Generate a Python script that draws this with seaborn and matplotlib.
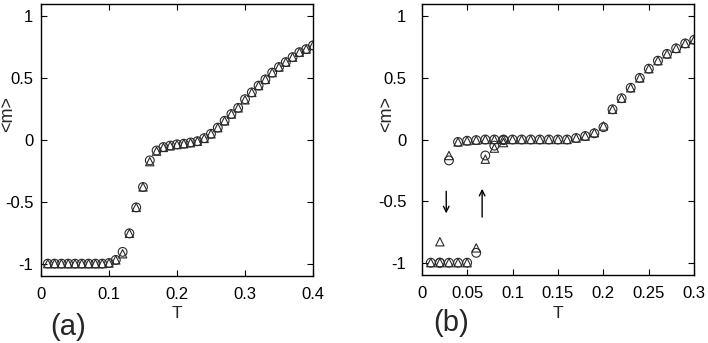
import numpy as np
import pandas as pd
import matplotlib
matplotlib.use("Agg")
import matplotlib.pyplot as plt
import seaborn as sns

# ---------------- data ----------------
# panel (a)
T_a = [0.01, 0.02, 0.03, 0.04, 0.05, 0.06, 0.07, 0.08, 0.09, 0.10,
       0.11, 0.12, 0.13, 0.14, 0.15, 0.16, 0.17, 0.18, 0.19, 0.20,
       0.21, 0.22, 0.23, 0.24, 0.25, 0.26, 0.27, 0.28, 0.29, 0.30,
       0.31, 0.32, 0.33, 0.34, 0.35, 0.36, 0.37, 0.38, 0.39, 0.40]
m_a_circle = [-1.0, -1.0, -1.0, -1.0, -1.0, -1.0, -1.0, -1.0, -1.0, -0.995,
              -0.97, -0.905, -0.755, -0.545, -0.38, -0.165, -0.085, -0.057, -0.045, -0.035,
              -0.03, -0.02, -0.01, 0.015, 0.05, 0.10, 0.155, 0.21, 0.26, 0.33,
              0.385, 0.44, 0.49, 0.545, 0.59, 0.63, 0.67, 0.71, 0.735, 0.765]
m_a_triangle = [-1.0, -1.0, -1.0, -1.0, -1.0, -1.0, -1.0, -1.0, -1.0, -0.995,
                -0.97, -0.92, -0.755, -0.545, -0.38, -0.175, -0.09, -0.06, -0.047, -0.037,
                -0.03, -0.022, -0.01, 0.013, 0.05, 0.10, 0.155, 0.21, 0.26, 0.325,
                0.385, 0.44, 0.49, 0.545, 0.59, 0.63, 0.67, 0.71, 0.735, 0.765]

# panel (b): cooling branch
T_b_cool = [0.02, 0.03, 0.04, 0.05, 0.06, 0.07, 0.08, 0.09, 0.10, 0.11,
            0.12, 0.13, 0.14, 0.15, 0.16, 0.17, 0.18, 0.19, 0.20, 0.21,
            0.22, 0.23, 0.24, 0.25, 0.26, 0.27, 0.28, 0.29, 0.30]
m_b_cool_circle = [-1.0, -0.17, -0.02, -0.01, -0.005, 0.0, 0.0, 0.0, 0.0, 0.0,
                   0.0, 0.0, 0.0, 0.0, 0.0, 0.012, 0.028, 0.05, 0.10, 0.245,
                   0.335, 0.42, 0.50, 0.575, 0.64, 0.695, 0.74, 0.78, 0.81]
m_b_cool_triangle = [-0.83, -0.13, -0.02, -0.01, -0.005, 0.0, 0.0, 0.0, 0.0, 0.0,
                     0.0, 0.0, 0.0, 0.0, 0.0, 0.012, 0.028, 0.055, 0.11, 0.245,
                     0.335, 0.42, 0.50, 0.575, 0.64, 0.695, 0.74, 0.78, 0.81]
# panel (b): heating branch
T_b_heat = [0.01, 0.02, 0.03, 0.04, 0.05, 0.06, 0.07, 0.08, 0.09]
m_b_heat_circle = [-1.0, -1.0, -1.0, -1.0, -1.0, -0.92, -0.13, -0.05, -0.005]
m_b_heat_triangle = [-1.0, -1.0, -1.0, -1.0, -1.0, -0.88, -0.16, -0.07, -0.025]

# arrows (T, m_start, m_end)
arrow_down = (0.027, -0.42, -0.60)
arrow_up = (0.0665, -0.63, -0.40)

yticks = [-1, -0.5, 0, 0.5, 1]
ytick_labels = ["-1", "-0.5", "0", "0.5", "1"]
xticks_a = [0, 0.1, 0.2, 0.3, 0.4]
xtick_labels_a = ["0", "0.1", "0.2", "0.3", "0.4"]
xticks_b = [0, 0.05, 0.1, 0.15, 0.2, 0.25, 0.3]
xtick_labels_b = ["0", "0.05", "0.1", "0.15", "0.2", "0.25", "0.3"]

# ---------------- style ----------------
sns.set_theme(style="ticks")
plt.rcParams["font.family"] = ["Liberation Sans", "DejaVu Sans"]
plt.rcParams["axes.linewidth"] = 1.0

fig = plt.figure(figsize=(7.08, 3.43), dpi=100)
W, H = 708, 343
ax_a = fig.add_axes([41 / W, (H - 276) / H, 272 / W, 272 / H])
ax_b = fig.add_axes([421.7 / W, (H - 275) / H, 272.6 / W, 271 / H])

edge = "#2a2a2a"
circ_kw = dict(marker="o", s=40, facecolor="none", edgecolor=edge, linewidth=0.8, zorder=3)
tri_kw = dict(marker="^", s=36, facecolor="none", edgecolor=edge, linewidth=0.8, zorder=3)


def scat(ax, x, y, kw):
    df = pd.DataFrame({"T": x, "m": y})
    sns.scatterplot(data=df, x="T", y="m", ax=ax, legend=False, **kw)


scat(ax_a, T_a, m_a_circle, circ_kw)
scat(ax_a, T_a, m_a_triangle, tri_kw)

scat(ax_b, T_b_cool, m_b_cool_circle, circ_kw)
scat(ax_b, T_b_heat, m_b_heat_circle, circ_kw)
scat(ax_b, T_b_cool, m_b_cool_triangle, tri_kw)
scat(ax_b, T_b_heat, m_b_heat_triangle, tri_kw)

for (x, y0, y1) in (arrow_down, arrow_up):
    ax_b.annotate("", xy=(x, y1), xytext=(x, y0),
                  arrowprops=dict(arrowstyle="->", color="black", lw=1.0,
                                  shrinkA=0, shrinkB=0, mutation_scale=10))

for ax, xt, xl, xmax, ypad in ((ax_a, xticks_a, xtick_labels_a, 0.4, 5.5),
                               (ax_b, xticks_b, xtick_labels_b, 0.3, 11)):
    ax.set_xlim(0, xmax)
    ax.set_ylim(-1.1, 1.1)
    ax.set_xticks(xt)
    ax.set_xticklabels(xl)
    ax.set_yticks(yticks)
    ax.set_yticklabels(ytick_labels)
    ax.tick_params(axis="both", which="both", direction="in", length=4, width=0.8,
                   top=True, right=True, labelsize=12, colors="black")
    ax.tick_params(axis="x", pad=8)
    ax.tick_params(axis="y", pad=ypad)
    for sp in ax.spines.values():
        sp.set_visible(True)
        sp.set_color("black")
        sp.set_linewidth(1.0)
    ax.set_xlabel("T", fontsize=12.5)
    ax.set_ylabel("<m>", fontsize=13)
    ax.xaxis.label.set_va("center")
    ax.yaxis.label.set_va("center")
    ax.set_facecolor("white")

ax_a.xaxis.set_label_coords(0.5, (276 - 314) / 272)
ax_a.yaxis.set_label_coords((7.5 - 41) / 272, (276 - 114) / 272)
ax_b.xaxis.set_label_coords(0.5, (275 - 314) / 271)
ax_b.yaxis.set_label_coords((387 - 421.7) / 272.6, (275 - 114) / 271)

fig.text(50 / W, 1 - 327 / H, "(a)", fontsize=21, ha="left", va="center")
fig.text(433 / W, 1 - 323 / H, "(b)", fontsize=21, ha="left", va="center")

fig.savefig("out.png", dpi=100, facecolor="white")
